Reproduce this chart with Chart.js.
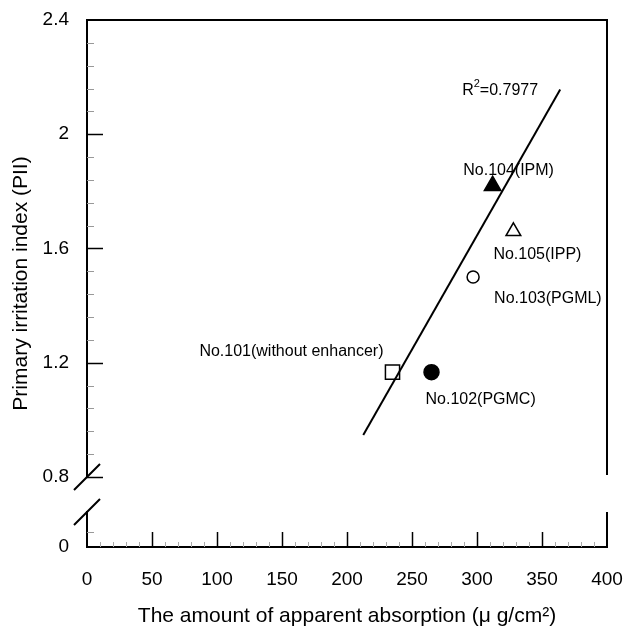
<!DOCTYPE html>
<html>
<head>
<meta charset="utf-8">
<script src="https://cdn.jsdelivr.net/npm/chart.js@4"></script>
<style>
  html, body { margin: 0; padding: 0; background: #fff; }
  #wrap { width: 628px; height: 631px; }
</style>
</head>
<body>
<div id="wrap"><canvas id="chart"></canvas></div>
<script>
// Data
const sampleNames = ["No.101(without enhancer)", "No.102(PGMC)", "No.103(PGML)", "No.104(IPM)", "No.105(IPP)"]
const absorption = [235, 265, 297, 312, 328]
const irritation = [1.167, 1.167, 1.5, 1.82, 1.66]
const fitX = [212.5, 364]
const fitY = [0.947, 2.157]
const r2Text = "0.7977"

const xTicks = [0, 50, 100, 150, 200, 250, 300, 350, 400]
const yTicks = [0.8, 1.2, 1.6, 2, 2.4]
const yLowTicks = [0]

const xTitle = "The amount of apparent absorption (\u03bc g/cm\u00b2)"
const yTitle = "Primary irritation index (PII)"

// Marker look per sample
const markerStyle = ["rect", "circle", "circle", "triangle", "triangle"]
const markerFill = ["#fff", "#000", "#fff", "#000", "#fff"]
const markerRadius = [10, 7.5, 6, 9.5, 8.5]

// Label placement relative to each marker: [dx, dy, align]
const labelPlace = [[-9, -16, "right"], [-6, 32, "left"], [21, 26, "left"], [16, -11, "center"], [-20, 28, "left"]]

const FONT = "'Liberation Sans', Arial, sans-serif"

const framePlugin = {
  id: "frame",
  afterDraw(chart) {
    const { ctx, chartArea: a } = chart
    const x = chart.scales.x, y = chart.scales.y, yLow = chart.scales.yLow
    const lowTop = yLow.bottom - 36
    ctx.save()
    ctx.strokeStyle = "#000"
    ctx.lineWidth = 2
    ctx.beginPath()
    ctx.moveTo(a.left - 1, a.top); ctx.lineTo(a.right + 1, a.top)
    ctx.moveTo(a.left, a.top); ctx.lineTo(a.left, y.bottom)
    ctx.moveTo(a.left, lowTop); ctx.lineTo(a.left, a.bottom)
    ctx.moveTo(a.right, a.top); ctx.lineTo(a.right, y.bottom - 2)
    ctx.moveTo(a.right, lowTop + 1); ctx.lineTo(a.right, a.bottom)
    ctx.moveTo(a.left - 1, a.bottom); ctx.lineTo(a.right + 1, a.bottom)
    ctx.stroke()

    // axis break marks
    ctx.beginPath()
    ctx.moveTo(a.left - 13, y.bottom + 13); ctx.lineTo(a.left + 13, y.bottom - 13)
    ctx.moveTo(a.left - 13, lowTop + 14); ctx.lineTo(a.left + 13, lowTop - 12)
    ctx.stroke()

    // x ticks: major every 50, minor every 10
    for (let v = x.min + 10; v < x.max; v += 10) {
      const px = Math.round(x.getPixelForValue(v)) + 0.5
      const major = v % 50 === 0
      ctx.strokeStyle = major ? "#000" : "#aaa"
      ctx.lineWidth = major ? 1.5 : 1
      ctx.beginPath()
      ctx.moveTo(px, a.bottom)
      ctx.lineTo(px, a.bottom - (major ? 15 : 5))
      ctx.stroke()
    }

    // y ticks: major every 0.4, minor every 0.08
    for (let i = 0; i < 20; i++) {
      const v = y.min + i * 0.08
      const py = Math.round(y.getPixelForValue(v)) + 0.5
      const major = i % 5 === 0
      ctx.strokeStyle = major ? "#000" : "#999"
      ctx.lineWidth = major ? 1.5 : 1
      ctx.beginPath()
      ctx.moveTo(a.left, py)
      ctx.lineTo(a.left + (major ? 16 : 7), py)
      ctx.stroke()
    }
    const pyLow = Math.round(yLow.getPixelForValue(0.08)) + 0.5
    ctx.strokeStyle = "#999"
    ctx.lineWidth = 1
    ctx.beginPath()
    ctx.moveTo(a.left, pyLow); ctx.lineTo(a.left + 7, pyLow)
    ctx.stroke()

    // y title, centred on the whole broken axis
    ctx.fillStyle = "#000"
    ctx.font = "21px " + FONT
    ctx.textAlign = "center"
    ctx.textBaseline = "middle"
    ctx.translate(21, (y.top + yLow.bottom) / 2)
    ctx.rotate(-Math.PI / 2)
    ctx.fillText(yTitle, 0, 0)
    ctx.restore()
  }
}

const labelPlugin = {
  id: "pointLabels",
  afterDatasetsDraw(chart) {
    const { ctx } = chart
    const pts = chart.getDatasetMeta(1).data
    ctx.save()
    ctx.fillStyle = "#000"
    ctx.font = "16px " + FONT
    ctx.textBaseline = "alphabetic"
    pts.forEach((p, i) => {
      const [dx, dy, align] = labelPlace[i]
      ctx.textAlign = align
      ctx.fillText(sampleNames[i], p.x + dx, p.y + dy)
    })
    // R squared next to the upper end of the fit line
    const end = chart.getDatasetMeta(0).data[1]
    const rx = end.x - 98, ry = end.y + 6
    ctx.textAlign = "left"
    ctx.fillText("R", rx, ry)
    const rw = ctx.measureText("R").width
    ctx.font = "11px " + FONT
    ctx.fillText("2", rx + rw, ry - 8)
    const sw = ctx.measureText("2").width
    ctx.font = "16px " + FONT
    ctx.fillText("=" + r2Text, rx + rw + sw, ry)
    ctx.restore()
  }
}

const tickFont = { family: FONT, size: 19 }
const noPadX = (s) => { s.paddingLeft = 0; s.paddingRight = 0 }
const noPadY = (s) => { s.paddingTop = 0; s.paddingBottom = 0 }

new Chart(document.getElementById("chart"), {
  type: "scatter",
  data: {
    datasets: [
      {
        type: "line",
        data: fitX.map((v, i) => ({ x: v, y: fitY[i] })),
        borderColor: "#000",
        borderWidth: 2,
        pointRadius: 0,
        fill: false,
        yAxisID: "y"
      },
      {
        data: absorption.map((v, i) => ({ x: v, y: irritation[i] })),
        pointStyle: markerStyle,
        pointRadius: markerRadius,
        pointBackgroundColor: markerFill,
        pointBorderColor: "#000",
        pointBorderWidth: 1.5,
        yAxisID: "y"
      }
    ]
  },
  options: {
    responsive: true,
    maintainAspectRatio: false,
    animation: false,
    layout: { padding: { top: 20, right: 21, left: 0, bottom: 0 } },
    plugins: { legend: { display: false }, tooltip: { enabled: false } },
    scales: {
      x: {
        type: "linear",
        min: 0,
        max: 400,
        afterBuildTicks: (s) => { s.ticks = xTicks.map(v => ({ value: v })) },
        afterFit: (s) => { s.height = 84; noPadX(s) },
        ticks: { color: "#000", font: tickFont, padding: 21, callback: (v) => String(v) },
        grid: { display: false, drawTicks: false },
        border: { display: false },
        title: { display: true, text: xTitle, color: "#000", font: { family: FONT, size: 21 }, padding: { top: 0, bottom: 2 } }
      },
      // lower stub of the broken axis (defined first so it is stacked below)
      yLow: {
        type: "linear",
        position: "left",
        stack: "pii",
        stackWeight: 70,
        min: 0,
        max: 0.37,
        afterBuildTicks: (s) => { s.ticks = yLowTicks.map(v => ({ value: v })) },
        afterFit: (s) => { s.width = 87; noPadY(s) },
        ticks: { color: "#000", font: tickFont, padding: 18, callback: (v) => String(v) },
        grid: { display: false, drawTicks: false },
        border: { display: false }
      },
      y: {
        type: "linear",
        position: "left",
        stack: "pii",
        stackWeight: 457,
        min: 0.8,
        max: 2.4,
        afterBuildTicks: (s) => { s.ticks = yTicks.map(v => ({ value: v })) },
        afterFit: (s) => { s.width = 87; noPadY(s) },
        ticks: { color: "#000", font: tickFont, padding: 18, callback: (v) => String(v) },
        grid: { display: false, drawTicks: false },
        border: { display: false }
      }
    }
  },
  plugins: [framePlugin, labelPlugin]
})
</script>
</body>
</html>
